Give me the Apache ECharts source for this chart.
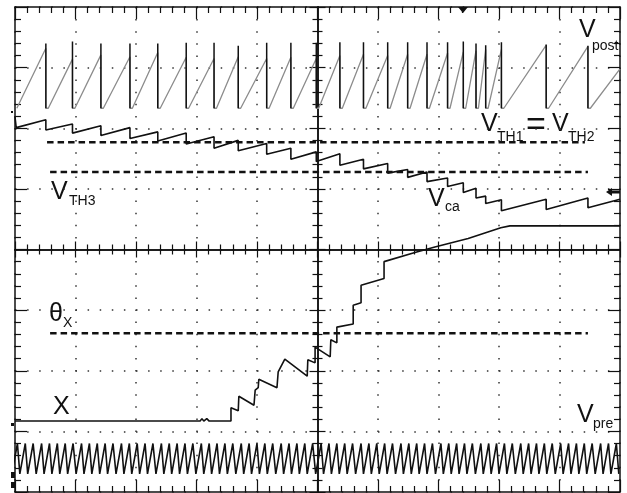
<!DOCTYPE html>
<html>
<head>
<meta charset="utf-8">
<style>
  html, body { margin: 0; padding: 0; background: #fff; }
  #chart { width: 627px; height: 493px; }
</style>
<script src="https://cdn.jsdelivr.net/npm/echarts@6/dist/echarts.min.js"></script>
</head>
<body>
<div id="chart"></div>
<script>
// scope screen: time and amplitude both in divisions (10 x 8, origin at centre)

// reset instants, shared by V_post and V_ca
const resetTimes = [-4.49, -4.05, -3.58, -3.10, -2.64, -2.17, -1.71, -1.31, -0.84, -0.44, -0.02, 0.37, 0.76, 1.16, 1.49, 1.81, 2.15, 2.41, 2.62, 2.78, 3.04, 3.78, 4.47];

// V_post sawtooth
const postBase = 2.33;
const postRampStart = [-4.97, -4.45, -4.01, -3.54, -3.06, -2.60, -2.13, -1.67, -1.27, -0.80, -0.40, 0.02, 0.41, 0.80, 1.20, 1.53, 1.85, 2.19, 2.45, 2.66, 2.82, 3.08, 3.82];
const postRampTop = [3.32, 3.14, 3.21, 3.18, 3.25, 3.17, 3.15, 3.18, 3.15, 3.17, 3.15, 3.20, 3.22, 3.20, 3.22, 3.22, 3.24, 3.26, 3.28, 3.30, 3.30, 3.37, 3.35];
const postSpikeTop = [3.40, 3.43, 3.40, 3.40, 3.40, 3.41, 3.41, 3.36, 3.41, 3.41, 3.41, 3.42, 3.42, 3.42, 3.42, 3.42, 3.42, 3.43, 3.40, 3.37, 3.42, 3.38, 3.36];
const postTail = [[4.51, 2.33], [5.0, 2.98]];

// V_ca, value just before / after each reset
const caStart = [[-5.0, 2.19], [-4.98, 2.01]];
const caBefore = [2.14, 2.07, 2.04, 2.01, 1.94, 1.92, 1.86, 1.80, 1.75, 1.67, 1.61, 1.58, 1.49, 1.42, 1.32, 1.28, 1.18, 1.10, 1.01, 0.88, 0.82, 0.83, 0.85];
const caAfter = [1.97, 1.92, 1.88, 1.83, 1.79, 1.74, 1.67, 1.63, 1.57, 1.49, 1.45, 1.39, 1.33, 1.26, 1.19, 1.12, 1.04, 0.94, 0.85, 0.76, 0.64, 0.66, 0.69];
const caEnd = [5.0, 0.83];

// X trace
const xTraceT = [-5.0, -1.94, -1.91, -1.88, -1.83, -1.79, -1.43, -1.43, -1.31, -1.30, -1.05, -1.03, -0.98, -0.97, -0.67, -0.65, -0.54, -0.17, -0.16, -0.04, -0.04, 0.21, 0.22, 0.32, 0.32, 0.59, 0.59, 0.72, 0.72, 1.10, 1.10, 1.61, 1.94, 2.49, 3.03, 3.18, 5.0];
const xTraceV = [-2.83, -2.83, -2.79, -2.83, -2.79, -2.83, -2.83, -2.61, -2.66, -2.42, -2.57, -2.32, -2.28, -2.14, -2.28, -2.02, -1.81, -2.09, -1.82, -1.87, -1.61, -1.77, -1.49, -1.54, -1.28, -1.23, -0.92, -0.88, -0.59, -0.48, -0.20, -0.05, 0.04, 0.18, 0.36, 0.39, 0.39];

// V_pre fast sawtooth
const preHigh = -3.20;
const preLow = -3.70;
const preTroughs = [-5.05, -4.92, -4.79, -4.65, -4.52, -4.39, -4.26, -4.13, -3.99, -3.86, -3.73, -3.60, -3.47, -3.33, -3.20, -3.07, -2.94, -2.81, -2.67, -2.54, -2.41, -2.28, -2.15, -2.01, -1.88, -1.75, -1.62, -1.49, -1.35, -1.22, -1.09, -0.96, -0.83, -0.69, -0.56, -0.43, -0.30, -0.17, -0.03, 0.10, 0.23, 0.36, 0.49, 0.63, 0.76, 0.89, 1.02, 1.15, 1.29, 1.42, 1.55, 1.68, 1.81, 1.95, 2.08, 2.21, 2.34, 2.47, 2.61, 2.74, 2.87, 3.00, 3.13, 3.27, 3.40, 3.53, 3.66, 3.79, 3.93, 4.06, 4.19, 4.32, 4.45, 4.59, 4.72, 4.85, 4.98];
const prePeaks = [-4.96, -4.83, -4.70, -4.56, -4.43, -4.30, -4.17, -4.04, -3.90, -3.77, -3.64, -3.51, -3.38, -3.24, -3.11, -2.98, -2.85, -2.72, -2.58, -2.45, -2.32, -2.19, -2.06, -1.92, -1.79, -1.66, -1.53, -1.40, -1.26, -1.13, -1.00, -0.87, -0.74, -0.60, -0.47, -0.34, -0.21, -0.08, 0.06, 0.19, 0.32, 0.45, 0.58, 0.72, 0.85, 0.98, 1.11, 1.24, 1.38, 1.51, 1.64, 1.77, 1.90, 2.04, 2.17, 2.30, 2.43, 2.56, 2.70, 2.83, 2.96, 3.09, 3.22, 3.36, 3.49, 3.62, 3.75, 3.88, 4.02, 4.15, 4.28, 4.41, 4.54, 4.68, 4.81, 4.94];

// dashed thresholds: [start, end, level]
const thTH12 = [-4.47, 4.42, 1.77];
const thTH3 = [-4.42, 4.47, 1.28];
const thTheta = [-4.42, 4.47, -1.38];

// ---- build point lists ----
const postRamp = [];
const postReset = [];
resetTimes.forEach((t, i) => {
  postRamp.push([postRampStart[i], postBase], [t, postRampTop[i]], [t, postBase]);
  postReset.push([t, postSpikeTop[i]], [t, postBase], [t, '-']);
});
postTail.forEach(p => postRamp.push(p));

const caData = caStart.slice();
resetTimes.forEach((t, i) => {
  caData.push([t, caBefore[i]], [t, caAfter[i]]);
});
caData.push(caEnd);

const xData = xTraceT.map((t, i) => [t, xTraceV[i]]);

const preData = [];
prePeaks.forEach((t, i) => {
  preData.push([preTroughs[i], preLow], [t, preHigh]);
});
preData.push([preTroughs[preTroughs.length - 1], preLow]);

const thLine = th => [[th[0], th[2]], [th[1], th[2]]];

const INK = '#111';

function borderAxis(pos, withGrid) {
  return {
    type: 'value', position: pos,
    axisLine: { show: true, onZero: false, lineStyle: { color: INK, width: 1.5 } },
    axisTick: { show: true, inside: true, length: 12, lineStyle: { color: INK, width: 1.2 } },
    minorTick: { show: true, splitNumber: 5, length: 6, lineStyle: { color: INK, width: 1.2 } },
    axisLabel: { show: false },
    splitLine: withGrid ? { show: true, lineStyle: { color: '#333', width: 1.5, type: [1.5, 10.6] } } : { show: false }
  };
}
function centreAxis(pos, inside) {
  return {
    type: 'value', position: pos,
    axisLine: { show: true, onZero: true, onZeroAxisIndex: 0, lineStyle: { color: INK, width: 1.5 } },
    axisTick: { show: true, inside: inside, length: 8, lineStyle: { color: INK, width: 1.2 } },
    minorTick: { show: true, splitNumber: 5, length: 5, lineStyle: { color: INK, width: 1.2 } },
    axisLabel: { show: false },
    splitLine: { show: false }
  };
}

const xAxes = [borderAxis('bottom', true), borderAxis('top', false), centreAxis('bottom', true), centreAxis('bottom', false)]
  .map(a => Object.assign(a, { min: -5, max: 5, interval: 1 }));
const yAxes = [borderAxis('left', true), borderAxis('right', false), centreAxis('left', true), centreAxis('left', false)]
  .map(a => Object.assign(a, { min: -4, max: 4, interval: 1 }));

function trace(name, data, color, width, dash) {
  return {
    name, type: 'line', data, xAxisIndex: 0, yAxisIndex: 0,
    showSymbol: false, symbol: 'none', silent: true, animation: false,
    lineStyle: { color, width, type: dash || 'solid' }
  };
}

function label(text, x, y, size) {
  return {
    type: 'text', x, y, silent: true,
    style: { text, fill: INK, font: size + 'px "Liberation Sans", Arial, sans-serif', textVerticalAlign: 'top' }
  };
}

const option = {
  animation: false,
  backgroundColor: '#fff',
  grid: { left: 15, right: 7, top: 7, bottom: 1, outerBoundsMode: 'none' },
  xAxis: xAxes,
  yAxis: yAxes,
  series: [
    trace('th12', thLine(thTH12), INK, 2.5, [6.5, 4]),
    trace('th3', thLine(thTH3), INK, 2.5, [6.5, 4]),
    trace('theta', thLine(thTheta), INK, 2.5, [6.5, 4]),
    trace('V_post', postRamp, '#8c8c8c', 1.3),
    trace('V_post reset', postReset, INK, 1.5),
    trace('V_ca', caData, INK, 1.6),
    trace('X', xData, INK, 1.6),
    trace('V_pre', preData, INK, 1.6)
  ],
  graphic: [
    label('V', 579, 18, 25), label('post', 592, 39, 14),
    label('V', 481, 112, 25), label('TH1', 497, 130, 14),
    label('=', 526, 109, 34),
    label('V', 552, 112, 25), label('TH2', 568, 130, 14),
    label('V', 51, 180, 25), label('TH3', 69, 194, 14),
    label('V', 428, 187, 25), label('ca', 445, 200, 14),
    label('θ', 49, 302, 25), label('X', 63, 316, 14),
    label('X', 53, 395, 25),
    label('V', 577, 403, 25), label('pre', 593, 417, 14),
    { type: 'polygon', silent: true, shape: { points: [[458, 7], [468, 7], [463, 13]] }, style: { fill: INK } },
    { type: 'polygon', silent: true, shape: { points: [[606, 192], [612, 188], [612, 196]] }, style: { fill: INK } },
    { type: 'rect', silent: true, shape: { x: 612, y: 190.5, width: 8, height: 3 }, style: { fill: INK } },
    { type: 'rect', silent: true, shape: { x: 11, y: 111, width: 2, height: 2 }, style: { fill: INK } },
    { type: 'rect', silent: true, shape: { x: 11, y: 423, width: 3, height: 3 }, style: { fill: INK } },
    { type: 'rect', silent: true, shape: { x: 11, y: 472, width: 4, height: 6 }, style: { fill: INK } },
    { type: 'rect', silent: true, shape: { x: 11, y: 482, width: 4, height: 6 }, style: { fill: INK } }
  ]
};

const chart = echarts.init(document.getElementById('chart'));
chart.setOption(option);
window.addEventListener('resize', () => chart.resize());
</script>
</body>
</html>
